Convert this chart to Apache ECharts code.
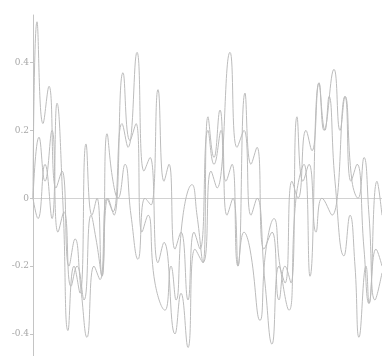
<!DOCTYPE html>
<html>
<head>
<meta charset="utf-8">
<script src="https://cdn.jsdelivr.net/npm/echarts@6/dist/echarts.min.js"></script>
<style>
  html, body { margin: 0; padding: 0; background: #fff; }
  #chart { width: 382px; height: 356px; }
</style>
</head>
<body>
<div id="chart"></div>
<script>
// y tick labels
const yTicks = [-0.4, -0.2, 0, 0.2, 0.4];

// three curves, x positions and values
const xA = [0, 4, 10, 16, 23, 29, 36, 42, 48, 54, 61, 67, 74, 80, 89, 95, 104, 111, 117, 125, 131, 142, 148, 155, 162, 170, 178, 184, 197, 204, 211, 218, 224, 232, 239, 246, 252, 259, 265, 273, 279, 286, 291, 301, 307, 312, 319, 325, 331, 336, 342, 349];
const yA = [0.0, 0.52, 0.22, 0.33, 0.03, 0.08, -0.2, -0.12, -0.27, -0.41, -0.2, -0.24, 0.0, -0.04, 0.22, 0.15, 0.43, 0.08, 0.12, -0.19, -0.13, -0.4, -0.28, -0.44, -0.15, -0.19, 0.08, 0.03, 0.43, 0.15, 0.2, -0.05, 0.0, -0.25, -0.43, -0.2, -0.25, 0.05, 0.0, 0.2, 0.14, 0.34, 0.2, 0.38, 0.2, 0.3, 0.05, 0.0, 0.12, -0.05, -0.3, -0.22];

const xB = [0, 5, 12, 19, 24, 30, 35, 41, 47, 53, 59, 64, 69, 75, 81, 90, 97, 103, 109, 115, 122, 132, 138, 143, 150, 159, 164, 170, 175, 181, 187, 193, 199, 205, 211, 217, 227, 233, 241, 247, 256, 263, 271, 277, 286, 292, 296, 302, 311, 317, 322, 326, 333, 336, 344, 349];
const yB = [0.0, -0.06, 0.1, -0.06, 0.28, -0.02, -0.39, -0.2, -0.28, 0.16, -0.05, 0.0, -0.23, 0.0, -0.05, 0.37, 0.17, 0.22, -0.1, -0.05, -0.25, -0.33, -0.2, -0.3, -0.05, 0.04, -0.05, -0.19, 0.24, 0.12, 0.26, 0.05, 0.1, -0.2, -0.1, -0.15, -0.36, -0.15, -0.06, -0.2, -0.33, 0.0, 0.1, -0.23, 0.34, 0.2, 0.3, 0.05, -0.17, -0.05, -0.2, -0.41, -0.2, -0.31, 0.05, -0.05];

const xC = [0, 6, 12, 19, 25, 31, 38, 44, 51, 58, 63, 69, 74, 80, 85, 92, 98, 105, 112, 118, 125, 131, 136, 142, 148, 155, 161, 167, 175, 181, 188, 194, 200, 205, 212, 218, 224, 231, 239, 246, 252, 258, 264, 270, 276, 283, 289, 299, 312, 318, 324, 331, 336, 343, 349];
const yC = [0.0, 0.18, 0.05, 0.2, -0.1, -0.04, -0.26, -0.2, -0.3, -0.05, -0.12, -0.23, 0.19, 0.05, 0.0, 0.1, -0.05, -0.18, 0.0, -0.02, 0.32, 0.05, 0.1, -0.15, -0.1, -0.3, -0.1, -0.15, 0.2, 0.1, 0.2, -0.05, 0.0, -0.2, 0.31, 0.1, 0.15, -0.15, -0.1, -0.3, -0.2, -0.25, 0.24, 0.05, 0.1, -0.1, 0.0, -0.05, 0.3, 0.05, 0.1, -0.15, -0.31, -0.15, -0.2];

function pairs(xs, ys) {
  return xs.map((x, i) => [x, ys[i]]);
}

const chart = echarts.init(document.getElementById('chart'));

const lineStyle = { color: '#bcbcbc', width: 1 };

chart.setOption({
  animation: false,
  grid: { left: 33, right: 0, top: 15, bottom: 0 },
  xAxis: {
    type: 'value',
    min: 0,
    max: 349,
    axisLine: { onZero: true, lineStyle: { color: '#d2d2d2' } },
    axisTick: { show: false },
    axisLabel: { show: false },
    splitLine: { show: false }
  },
  yAxis: {
    type: 'value',
    min: -0.465,
    max: 0.54,
    axisLine: { show: true, lineStyle: { color: '#c4c4c4' } },
    axisTick: { show: true, length: 3, customValues: yTicks, lineStyle: { color: '#c4c4c4' } },
    axisLabel: {
      customValues: yTicks,
      color: '#a8a8a8',
      fontSize: 9,
      fontFamily: 'DejaVu Serif',
      margin: 4,
      formatter: v => (v === 0 ? '0' : v.toFixed(1))
    },
    splitLine: { show: false }
  },
  series: [
    { type: 'line', data: pairs(xA, yA), smooth: 0.5, showSymbol: false, lineStyle },
    { type: 'line', data: pairs(xB, yB), smooth: 0.5, showSymbol: false, lineStyle },
    { type: 'line', data: pairs(xC, yC), smooth: 0.5, showSymbol: false, lineStyle }
  ]
});
</script>
</body>
</html>
